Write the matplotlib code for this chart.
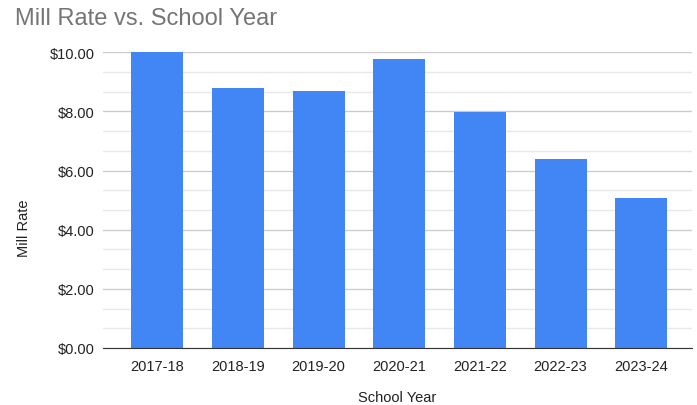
import matplotlib.pyplot as plt
import numpy as np
from matplotlib.ticker import MultipleLocator, FuncFormatter

years = ['2017-18', '2018-19', '2019-20', '2020-21', '2021-22', '2022-23', '2023-24']
mill_rate = [10.00, 8.79, 8.68, 9.77, 7.97, 6.39, 5.08]

plt.rcParams['font.family'] = ['Liberation Sans', 'DejaVu Sans']

fig = plt.figure(figsize=(6.97, 4.06), dpi=100)
ax = fig.add_axes([0.148, 0.1404, 0.845, 0.7283])

x = np.arange(len(years))
ax.bar(x, mill_rate, width=0.645, color='#4285F4', zorder=3)

ax.set_xlim(-0.67, 6.63)
ax.set_ylim(0, 10)
ax.yaxis.set_major_locator(MultipleLocator(2))
ax.yaxis.set_minor_locator(MultipleLocator(2 / 3))
ax.yaxis.set_major_formatter(FuncFormatter(lambda v, p: '${:.2f}'.format(v)))
ax.grid(axis='y', which='major', color='#cccccc', linewidth=1, zorder=0)
ax.grid(axis='y', which='minor', color='#e8e8e8', linewidth=1, zorder=0)

ax.set_xticks(x)
ax.set_xticklabels(years)
ax.tick_params(axis='both', which='both', length=0, labelsize=10.5, colors='#222222')
ax.tick_params(axis='x', pad=8)
ax.tick_params(axis='y', pad=6)

for s in ['top', 'right', 'left']:
    ax.spines[s].set_visible(False)
ax.spines['bottom'].set_color('#333333')
ax.spines['bottom'].set_zorder(4)

fig.text(0.0215, 0.953, 'Mill Rate vs. School Year', fontsize=17, color='#757575',
         ha='left', va='center')
fig.text(0.57, 0.02, 'School Year', fontsize=10.5, color='#222222', ha='center', va='center')
fig.text(0.034, 0.438, 'Mill Rate', fontsize=10.5, color='#222222', rotation=90,
         ha='center', va='center')

fig.savefig('out.png', dpi=100)
